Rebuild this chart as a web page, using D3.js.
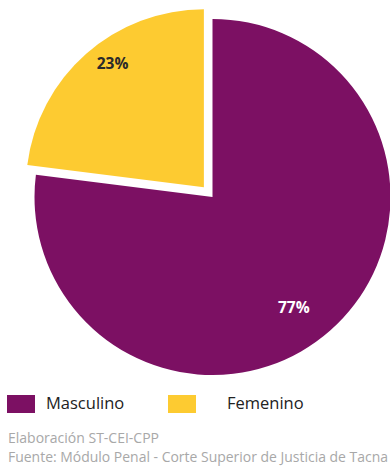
<!DOCTYPE html>
<html><head><meta charset="utf-8">
<script src="https://cdn.jsdelivr.net/npm/d3@7"></script>
<style>body{margin:0;background:#fff;}svg{display:block;}</style>
</head><body>
<svg id="c" width="390" height="466"></svg>
<script>
const categories = ["Masculino", "Femenino"];
const values = [77, 23];
const labels = ["77%", "23%"];
const colors = ["#7c1063", "#fdcb31"];
const footnotes = ["Elaboración ST-CEI-CPP", "Fuente: Módulo Penal - Corte Superior de Justicia de Tacna"];

const svg = d3.select("#c");
const cx = 212.5, cy = 197, R = 178;
const explode = [0, 13];
const labelColors = ["#ffffff", "#2a2a2a"];
const font = "'Open Sans', sans-serif";

const pie = d3.pie().sort(null).value(d => d)(values);
const arc = d3.arc().innerRadius(0).outerRadius(R);
const g = svg.append("g").attr("transform", `translate(${cx},${cy})`);

pie.forEach((p, i) => {
  const mid = (p.startAngle + p.endAngle) / 2;
  const dx = Math.sin(mid) * explode[i], dy = -Math.cos(mid) * explode[i];
  const sg = g.append("g").attr("transform", `translate(${dx},${dy})`);
  sg.append("path").attr("d", arc(p)).attr("fill", colors[i]);
  const la = mid + 5 * Math.PI / 180;
  const lr = i === 0 ? 137 : 154;
  sg.append("text")
    .attr("x", Math.sin(la) * lr).attr("y", -Math.cos(la) * lr)
    .attr("text-anchor", "middle").attr("dominant-baseline", "central")
    .attr("font-family", font).attr("font-weight", "bold").attr("font-size", 15.5)
    .attr("fill", labelColors[i]).text(labels[i]);
});

const legX = [7, 168], legTX = [46, 227];
categories.forEach((c, i) => {
  svg.append("rect").attr("x", legX[i]).attr("y", 395).attr("width", 28).attr("height", 18).attr("fill", colors[i]);
  svg.append("text").attr("x", legTX[i]).attr("y", 409).attr("font-family", font)
    .attr("font-size", 16.5).attr("fill", "#222").text(c);
});

footnotes.forEach((t, i) => {
  const tx = svg.append("text").attr("x", 8).attr("y", 443 + i * 19).attr("font-family", font)
    .attr("font-size", 14).attr("fill", "#a8a8a8").text(t);
  const w = tx.node().getComputedTextLength();
  if (8 + w > 388) tx.attr("textLength", 380).attr("lengthAdjust", "spacingAndGlyphs");
});
</script>
</body></html>
